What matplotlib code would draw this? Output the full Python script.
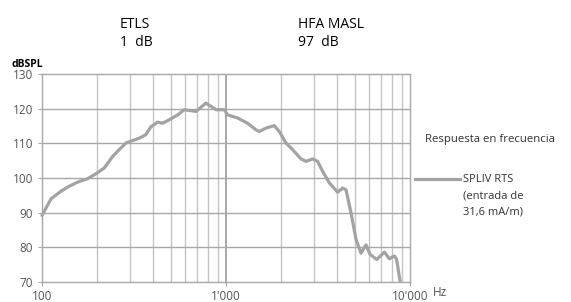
import matplotlib.pyplot as plt
import numpy as np

# curve data
freq = [100, 112, 127, 138, 156, 177, 196, 218, 242, 263, 286, 311, 338, 367,
        391, 425, 452, 492, 546, 593, 687, 778, 883, 978, 1020, 1157, 1310,
        1455, 1517, 1649, 1830, 1948, 2118, 2300, 2556, 2723, 2958, 3148,
        3352, 3642, 4042, 4303, 4490, 4777, 5090, 5416, 5767, 6064, 6590,
        7259, 7723, 8227, 8460, 8826]
spl = [89.2, 94.0, 96.2, 97.4, 98.8, 99.8, 101.2, 102.9, 106.2, 108.2, 110.1,
       110.8, 111.5, 112.5, 114.8, 116.1, 115.8, 116.8, 118.2, 119.7, 119.2,
       121.6, 119.7, 119.7, 118.2, 117.3, 115.8, 113.9, 113.4, 114.4, 115.1,
       113.4, 110.1, 108.2, 105.5, 104.8, 105.5, 104.8, 101.9, 98.6, 95.9,
       97.1, 96.6, 90.0, 82.3, 78.3, 80.7, 78.0, 76.5, 78.6, 76.7, 77.5, 76.5,
       70.3]

yticks = [70, 80, 90, 100, 110, 120, 130]
xticks = [100, 1000, 10000]
xlabels = ["100", "1'000", "10'000"]

plt.rcParams['font.family'] = ['Open Sans', 'DejaVu Sans']

fig = plt.figure(figsize=(5.71, 3.02), dpi=100)
ax = fig.add_axes([42 / 571, 1 - 282 / 302, 368 / 571, 208 / 302])

ax.set_xscale('log')
ax.set_xlim(100, 10000)
ax.set_ylim(70, 130)

# grid
minor = [m * d for d in (100, 1000) for m in range(2, 10)]
for f in minor:
    ax.axvline(f, color='#c4c4c4', lw=1.0, zorder=0)
ax.axvline(1000, color='#9a9a9a', lw=1.2, zorder=0)
for v in yticks[1:-1]:
    ax.axhline(v, color='#a8a8a8', lw=1.0, zorder=0)

for s in ax.spines.values():
    s.set_color('#a8a8a8')
    s.set_linewidth(1.0)

ax.plot(freq, spl, color='#a3a3a3', lw=2.3, solid_capstyle='round',
        solid_joinstyle='round', clip_on=False)

ax.set_yticks(yticks)
ax.set_yticklabels([str(v) for v in yticks], fontsize=8.5, color='#555555')
ax.set_xticks(xticks)
ax.set_xticklabels(xlabels, fontsize=8.5, color='#555555')
ax.xaxis.set_minor_locator(plt.NullLocator())
ax.tick_params(axis='y', length=3, color='#a8a8a8', pad=3.5)
ax.tick_params(axis='x', length=3, color='#a8a8a8', pad=3)

ax.text(-0.084, 1.02, 'dBSPL', transform=ax.transAxes, fontsize=7.5,
        fontweight='bold', ha='left', va='bottom')
fig.text(440 / 571, 1 - 292 / 302, 'Hz', fontsize=8.5, color='#555555',
         ha='center', va='center')

# header
fig.text(120 / 571, 1 - 25 / 302, 'ETLS', fontsize=10, ha='left', va='center')
fig.text(120 / 571, 1 - 43 / 302, '1  dB', fontsize=10, ha='left', va='center')
fig.text(298 / 571, 1 - 25 / 302, 'HFA MASL', fontsize=10, ha='left', va='center')
fig.text(298 / 571, 1 - 43 / 302, '97  dB', fontsize=10, ha='left', va='center')

# legend
fig.text(425 / 571, 1 - 140 / 302, 'Respuesta en frecuencia', fontsize=8.2,
         color='#333333', ha='left', va='center')
fig.add_artist(plt.Line2D([415 / 571, 460 / 571], [1 - 179 / 302, 1 - 179 / 302],
                          color='#a3a3a3', lw=2.3))
fig.text(463 / 571, 1 - 180 / 302, 'SPLIV RTS', fontsize=8,
         color='#333333', ha='left', va='center')
fig.text(463 / 571, 1 - 196 / 302, '(entrada de', fontsize=8,
         color='#333333', ha='left', va='center')
fig.text(463 / 571, 1 - 212 / 302, '31,6 mA/m)', fontsize=8,
         color='#333333', ha='left', va='center')

fig.savefig('out.png', dpi=100)
